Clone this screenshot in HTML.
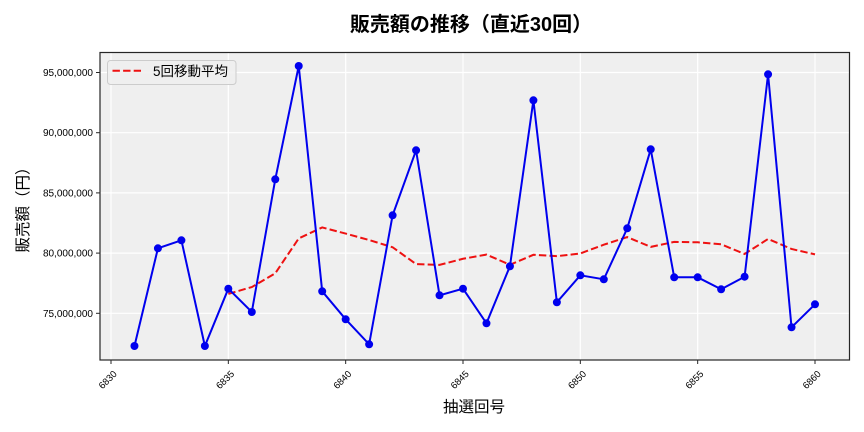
<!DOCTYPE html>
<html>
<head>
<meta charset="utf-8">
<style>
  html, body { margin:0; padding:0; background:#ffffff; }
  svg { display:block; }
  text { font-family: "Liberation Sans", "Noto Sans CJK JP", sans-serif; fill:#000; }
</style>
</head>
<body>
<svg width="864" height="432" viewBox="0 0 864 432" xmlns="http://www.w3.org/2000/svg">
  <rect x="0" y="0" width="864" height="432" fill="#ffffff"/>
  <!-- plot area -->
  <rect x="100" y="52.5" width="749.5" height="307.5" fill="#efefef"/>
  <!-- grid -->
  <g stroke="#ffffff" stroke-width="1.2">
    <line x1="111" y1="52.5" x2="111" y2="360"/>
    <line x1="228.33" y1="52.5" x2="228.33" y2="360"/>
    <line x1="345.67" y1="52.5" x2="345.67" y2="360"/>
    <line x1="463" y1="52.5" x2="463" y2="360"/>
    <line x1="580.33" y1="52.5" x2="580.33" y2="360"/>
    <line x1="697.67" y1="52.5" x2="697.67" y2="360"/>
    <line x1="815" y1="52.5" x2="815" y2="360"/>
    <line x1="100" y1="72.5" x2="849.5" y2="72.5"/>
    <line x1="100" y1="132.7" x2="849.5" y2="132.7"/>
    <line x1="100" y1="192.9" x2="849.5" y2="192.9"/>
    <line x1="100" y1="253.1" x2="849.5" y2="253.1"/>
    <line x1="100" y1="313.3" x2="849.5" y2="313.3"/>
  </g>

  <!-- moving average -->
  <polyline fill="none" stroke="#ee1111" stroke-width="2" stroke-dasharray="7.4,3.2"
    points="228.33,293.86 251.8,287.06 275.27,273.26 298.73,238.4 322.2,227.46 345.67,233.58 369.13,240.04 392.6,247.24 416.07,264.1 439.53,264.9 463,258.78 486.47,254.58 509.93,264.78 533.4,254.78 556.87,256.18 580.33,253.5 603.8,244.7 627.27,237.1 650.73,246.9 674.2,241.9 697.67,242.3 721.13,244.3 744.6,253.98 768.07,238.98 791.53,248.98 815,254.38"/>

  <!-- sales line -->
  <polyline fill="none" stroke="#0000ee" stroke-width="2"
    points="134.47,346 157.93,248.3 181.4,240.3 204.87,346 228.33,288.7 251.8,312 275.27,179.3 298.73,66 322.2,291.3 345.67,319.3 369.13,344.3 392.6,215.3 416.07,150.3 439.53,295.3 463,288.7 486.47,323.3 509.93,266.3 533.4,100.3 556.87,302.3 580.33,275.3 603.8,279.3 627.27,228.3 650.73,149.3 674.2,277.3 697.67,277.3 721.13,289.3 744.6,276.7 768.07,74.3 791.53,327.3 815,304.3"/>
  <g fill="#0000ee">
    <circle cx="134.47" cy="346" r="4"/>
    <circle cx="157.93" cy="248.3" r="4"/>
    <circle cx="181.4" cy="240.3" r="4"/>
    <circle cx="204.87" cy="346" r="4"/>
    <circle cx="228.33" cy="288.7" r="4"/>
    <circle cx="251.8" cy="312" r="4"/>
    <circle cx="275.27" cy="179.3" r="4"/>
    <circle cx="298.73" cy="66" r="4"/>
    <circle cx="322.2" cy="291.3" r="4"/>
    <circle cx="345.67" cy="319.3" r="4"/>
    <circle cx="369.13" cy="344.3" r="4"/>
    <circle cx="392.6" cy="215.3" r="4"/>
    <circle cx="416.07" cy="150.3" r="4"/>
    <circle cx="439.53" cy="295.3" r="4"/>
    <circle cx="463" cy="288.7" r="4"/>
    <circle cx="486.47" cy="323.3" r="4"/>
    <circle cx="509.93" cy="266.3" r="4"/>
    <circle cx="533.4" cy="100.3" r="4"/>
    <circle cx="556.87" cy="302.3" r="4"/>
    <circle cx="580.33" cy="275.3" r="4"/>
    <circle cx="603.8" cy="279.3" r="4"/>
    <circle cx="627.27" cy="228.3" r="4"/>
    <circle cx="650.73" cy="149.3" r="4"/>
    <circle cx="674.2" cy="277.3" r="4"/>
    <circle cx="697.67" cy="277.3" r="4"/>
    <circle cx="721.13" cy="289.3" r="4"/>
    <circle cx="744.6" cy="276.7" r="4"/>
    <circle cx="768.07" cy="74.3" r="4"/>
    <circle cx="791.53" cy="327.3" r="4"/>
    <circle cx="815" cy="304.3" r="4"/>
  </g>

  <!-- spines -->
  <rect x="100" y="52.5" width="749.5" height="307.5" fill="none" stroke="#262626" stroke-width="1.2"/>

  <!-- y ticks -->
  <g stroke="#262626" stroke-width="1">
    <line x1="96" y1="72.5" x2="100" y2="72.5"/>
    <line x1="96" y1="132.7" x2="100" y2="132.7"/>
    <line x1="96" y1="192.9" x2="100" y2="192.9"/>
    <line x1="96" y1="253.1" x2="100" y2="253.1"/>
    <line x1="96" y1="313.3" x2="100" y2="313.3"/>
    <line x1="111" y1="360" x2="111" y2="364"/>
    <line x1="228.33" y1="360" x2="228.33" y2="364"/>
    <line x1="345.67" y1="360" x2="345.67" y2="364"/>
    <line x1="463" y1="360" x2="463" y2="364"/>
    <line x1="580.33" y1="360" x2="580.33" y2="364"/>
    <line x1="697.67" y1="360" x2="697.67" y2="364"/>
    <line x1="815" y1="360" x2="815" y2="364"/>
  </g>
  <g font-size="10" text-anchor="end">
    <text x="93" y="76">95,000,000</text>
    <text x="93" y="136.2">90,000,000</text>
    <text x="93" y="196.4">85,000,000</text>
    <text x="93" y="256.6">80,000,000</text>
    <text x="93" y="316.8">75,000,000</text>
  </g>
  <g font-size="9.5" text-anchor="middle">
    <text transform="translate(110,382) rotate(-45)">6830</text>
    <text transform="translate(227.33,382) rotate(-45)">6835</text>
    <text transform="translate(344.67,382) rotate(-45)">6840</text>
    <text transform="translate(462,382) rotate(-45)">6845</text>
    <text transform="translate(579.33,382) rotate(-45)">6850</text>
    <text transform="translate(696.67,382) rotate(-45)">6855</text>
    <text transform="translate(814,382) rotate(-45)">6860</text>
  </g>

  <!-- legend -->
  <rect x="107.5" y="60.5" width="128.5" height="24" rx="3" ry="3" fill="#efefef" fill-opacity="0.85" stroke="#cccccc" stroke-width="1"/>
  <line x1="112.5" y1="70.8" x2="141" y2="70.8" stroke="#ee1111" stroke-width="2" stroke-dasharray="7.4,3.2"/>
  <text x="153" y="76" font-size="13.5">5回移動平均</text>

  <!-- titles -->
  <text x="471" y="31" font-size="20" font-weight="bold" text-anchor="middle">販売額の推移（直近30回）</text>
  <text x="474" y="412" font-size="15.5" text-anchor="middle">抽選回号</text>
  <text transform="translate(28,206) rotate(-90)" font-size="15.5" text-anchor="middle">販売額（円）</text>
</svg>
</body>
</html>
